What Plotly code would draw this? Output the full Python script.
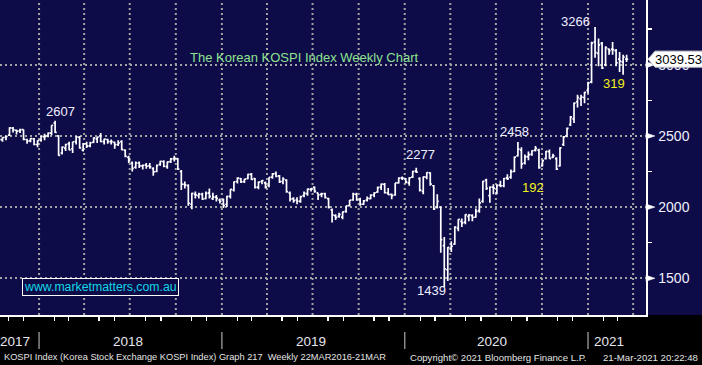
import plotly.graph_objects as go
import pandas as pd

# ---------------- data (weekly KOSPI bars, week ending Friday) ----------------
WEEKS = pd.date_range("2017-10-13", "2021-03-19", freq="W-FRI")

OPEN = [
    2430, 2474, 2490, 2505, 2555, 2540, 2535, 2545, 2475, 2465, 2480, 2440,
    2470, 2495, 2500, 2520, 2590, 2500, 2380, 2415, 2445, 2410, 2460, 2490, 2400, 2445, 2430, 2455,
    2480, 2500, 2460, 2475, 2460, 2455, 2440, 2460, 2400, 2350, 2310, 2280, 2310, 2290, 2295, 2290,
    2270, 2250, 2300, 2320, 2285, 2320, 2340, 2340, 2250, 2160, 2150, 2020, 2090, 2080, 2090, 2060,
    2100, 2060, 2070, 2050,
    2050, 2020, 2075, 2120, 2180, 2200, 2180, 2200, 2230, 2200, 2140, 2180, 2170, 2150, 2210, 2235,
    2220, 2180, 2190, 2100, 2060, 2050, 2040, 2080, 2095, 2125, 2140, 2100, 2090, 2095, 2060, 1980,
    1940, 1935, 1930, 1970, 2010, 2050, 2090, 2050, 2020, 2050, 2060, 2085, 2105, 2140, 2160, 2100,
    2090, 2085, 2170, 2205,
    2200, 2170, 2210, 2255, 2200, 2110, 2210, 2240, 2150, 2000, 2000, 1730, 1560, 1710, 1740, 1850,
    1900, 1895, 1935, 1940, 1930, 1975, 2040, 2190, 2080, 2140, 2100, 2155, 2150, 2205, 2210, 2250,
    2360, 2400, 2310, 2355, 2370, 2400, 2400, 2290, 2340, 2390, 2350, 2340, 2290, 2440, 2500, 2580,
    2620, 2740, 2760, 2770, 2820,
    2880, 3160, 3080, 3150, 3000, 3110, 3110, 3100, 3040, 3020, 3040,
]
HIGH = [
    2480, 2490, 2502, 2561, 2562, 2545, 2550, 2546, 2480, 2485, 2485, 2470,
    2500, 2515, 2525, 2575, 2607, 2505, 2425, 2445, 2460, 2460, 2500, 2500, 2450, 2460, 2460, 2490,
    2495, 2520, 2480, 2480, 2475, 2460, 2470, 2470, 2405, 2360, 2320, 2320, 2320, 2300, 2310, 2310,
    2280, 2300, 2325, 2330, 2320, 2345, 2360, 2345, 2260, 2180, 2160, 2100, 2110, 2100, 2100, 2110,
    2130, 2100, 2085, 2060,
    2060, 2080, 2125, 2180, 2210, 2205, 2200, 2235, 2240, 2205, 2180, 2190, 2180, 2210, 2240, 2250,
    2225, 2210, 2195, 2110, 2070, 2070, 2080, 2110, 2130, 2135, 2145, 2100, 2100, 2100, 2065, 1990,
    1950, 1960, 1970, 2010, 2050, 2100, 2100, 2065, 2050, 2075, 2090, 2105, 2145, 2165, 2170, 2135,
    2095, 2170, 2210, 2215,
    2205, 2210, 2255, 2277, 2210, 2215, 2245, 2245, 2155, 2090, 2005, 1790, 1720, 1760, 1865, 1915,
    1920, 1950, 1950, 1950, 1990, 2060, 2185, 2200, 2145, 2160, 2160, 2185, 2205, 2230, 2265, 2355,
    2458, 2420, 2370, 2390, 2400, 2430, 2410, 2335, 2395, 2405, 2375, 2350, 2420, 2500, 2560, 2640,
    2735, 2790, 2790, 2810, 2880,
    3162, 3266, 3185, 3160, 3130, 3115, 3160, 3110, 3090, 3070, 3070,
]
LOW = [
    2425, 2460, 2470, 2500, 2525, 2510, 2520, 2470, 2445, 2455, 2435, 2420,
    2460, 2470, 2490, 2505, 2520, 2360, 2370, 2395, 2400, 2380, 2440, 2410, 2390, 2415, 2420, 2450,
    2450, 2455, 2440, 2445, 2440, 2410, 2430, 2400, 2350, 2310, 2250, 2270, 2275, 2265, 2270, 2270,
    2220, 2245, 2290, 2280, 2270, 2310, 2320, 2260, 2120, 2130, 2010, 1985, 2060, 2060, 2050, 2055,
    2060, 2050, 2040, 2025,
    1993, 2000, 2060, 2110, 2165, 2170, 2170, 2195, 2190, 2130, 2125, 2160, 2130, 2140, 2200, 2210,
    2170, 2160, 2100, 2040, 2030, 2020, 2030, 2070, 2080, 2110, 2100, 2050, 2070, 2060, 1990, 1891,
    1910, 1925, 1915, 1960, 2005, 2045, 2045, 2010, 2015, 2040, 2055, 2070, 2100, 2120, 2095, 2085,
    2055, 2080, 2165, 2190,
    2165, 2150, 2205, 2240, 2110, 2090, 2195, 2150, 1980, 1990, 1680, 1439, 1480, 1685, 1735, 1830,
    1860, 1880, 1900, 1900, 1925, 1960, 2030, 2120, 2030, 2090, 2090, 2140, 2140, 2190, 2200, 2245,
    2355, 2270, 2300, 2330, 2360, 2390, 2270, 2285, 2335, 2340, 2345, 2260, 2285, 2430, 2490, 2570,
    2590, 2700, 2710, 2730, 2800,
    2870, 3050, 2990, 2970, 2990, 3070, 3070, 2990, 2950, 2930, 3020,
]
CLOSE = [
    2474, 2489, 2496, 2557, 2542, 2533, 2545, 2476, 2464, 2482, 2440, 2467,
    2497, 2496, 2520, 2575, 2525, 2363, 2421, 2440, 2402, 2459, 2494, 2416, 2445, 2429, 2452, 2487,
    2492, 2461, 2477, 2460, 2460, 2438, 2451, 2404, 2357, 2326, 2272, 2310, 2289, 2294, 2287, 2282,
    2247, 2293, 2322, 2287, 2318, 2339, 2343, 2267, 2161, 2156, 2027, 2096, 2086, 2092, 2057, 2097,
    2075, 2070, 2061, 2041,
    2010, 2075, 2124, 2178, 2204, 2177, 2196, 2230, 2195, 2138, 2176, 2186, 2141, 2209, 2233, 2216,
    2179, 2196, 2108, 2056, 2046, 2041, 2073, 2096, 2126, 2130, 2110, 2086, 2094, 2067, 1998, 1943,
    1927, 1948, 1967, 2009, 2049, 2091, 2050, 2020, 2044, 2061, 2085, 2100, 2137, 2162, 2101, 2087,
    2081, 2170, 2204, 2204,
    2176, 2206, 2250, 2246, 2119, 2212, 2243, 2162, 1987, 2040, 1771, 1566, 1717, 1725, 1860, 1914,
    1889, 1947, 1945, 1927, 1970, 2030, 2181, 2132, 2141, 2134, 2152, 2150, 2201, 2200, 2249, 2351,
    2407, 2304, 2353, 2368, 2396, 2412, 2278, 2327, 2391, 2341, 2360, 2267, 2416, 2493, 2553, 2633,
    2731, 2770, 2772, 2806, 2873,
    3152, 3085, 3140, 2976, 3120, 3100, 3107, 3013, 3026, 3054, 3039.53,
]

LAST_PRICE = 3039.53
Y_TICKS = [1500, 2000, 2500, 3000]
Y_MINOR = [1750, 2250, 2750, 3250]
YEARS = ["2017", "2018", "2019", "2020", "2021"]
YEAR_LABEL_DATES = ["2017-11-13", "2018-06-27", "2019-06-28", "2020-06-23", "2021-02-11"]
YEAR_STARTS = ["2018-01-01", "2019-01-01", "2020-01-01", "2021-01-01"]
QUARTERS = pd.date_range("2018-01-01", "2021-04-01", freq="QS")
MONTHS = [d for d in pd.date_range("2017-11-01", "2021-04-01", freq="MS") if d.month not in (1, 4, 7, 10)]

# peak / trough callouts: text, paper x, paper y, colour
CALLOUTS = [
    ("2607", 0.0944, 0.6476, "#eef0ff"),
    ("2277", 0.6502, 0.5111, "#eef0ff"),
    ("1439", 0.6672, 0.0762, "#eef0ff"),
    ("2458", 0.7972, 0.5841, "#eef0ff"),
    ("3266", 0.8901, 0.9302, "#eef0ff"),
    ("192", 0.8251, 0.4063, "#f2f21a"),
    ("319", 0.9505, 0.7365, "#f2f21a"),
]

NAVY = "#0e0b49"
GRID = "#a3a3a3"
FONT = "Liberation Sans, Arial, sans-serif"
W, H = 702, 365
ML, MR, MT, MB = 0, 56, 0, 50
PW, PH = W - ML - MR, H - MT - MB
Y_RANGE = [1242, 3455]
X_RANGE = ["2017-10-15", "2021-04-26 17:00"]

fig = go.Figure()
fig.add_trace(go.Ohlc(
    x=WEEKS, open=OPEN, high=HIGH, low=LOW, close=CLOSE,
    increasing=dict(line=dict(color="white", width=1.7)),
    decreasing=dict(line=dict(color="white", width=1.7)),
    tickwidth=0.45, hoverinfo="skip", showlegend=False,
))

shapes = []
# navy strip behind the price scale
shapes.append(dict(type="rect", xref="paper", yref="paper", x0=1, x1=W / PW + 0.01, y0=0, y1=1,
                   fillcolor=NAVY, line=dict(width=0), layer="below"))
# quarterly dotted gridlines
for q in QUARTERS:
    shapes.append(dict(type="line", xref="x", yref="paper", x0=q, x1=q, y0=0, y1=1,
                       line=dict(color=GRID, width=2, dash="2px,3px"), layer="below"))
# year separators under the axis
for ys in YEAR_STARTS:
    shapes.append(dict(type="line", xref="x", yref="paper", x0=ys, x1=ys, y0=-0.054, y1=-0.108,
                       line=dict(color="#8a8a8a", width=1.5)))
# arrow heads on the price labels
vpp = (Y_RANGE[1] - Y_RANGE[0]) / PH
for v in Y_TICKS:
    shapes.append(dict(type="path", xref="paper", yref="y",
                       path=f"M 1.0,{v - 3 * vpp} L {1 + 9 / PW},{v} L 1.0,{v + 3 * vpp} Z",
                       fillcolor="white", line=dict(color="white", width=0.5), layer="above"))
# last price marker box
x_tip, x_base, x_end = 1 + 2 / PW, 1 + 9 / PW, 1 + 60 / PW
shapes.append(dict(type="path", xref="paper", yref="y",
                   path=(f"M {x_tip},{LAST_PRICE} L {x_base},{LAST_PRICE + 8 * vpp} "
                         f"L {x_end},{LAST_PRICE + 8 * vpp} L {x_end},{LAST_PRICE - 8 * vpp} "
                         f"L {x_base},{LAST_PRICE - 8 * vpp} Z"),
                   fillcolor="white", line=dict(color="#cfcfcf", width=1), layer="above"))

ann = []
ann.append(dict(text="The Korean KOSPI Index Weekly Chart", xref="paper", yref="paper",
                x=188 / PW, y=(PH - 57.5) / PH, xanchor="left", yanchor="middle", showarrow=False,
                font=dict(family=FONT, size=13, color="#8fe38f")))
ann.append(dict(text="www.marketmatters,com.au", xref="paper", yref="paper",
                x=100 / PW, y=(PH - 286.5) / PH, xanchor="center", yanchor="middle", showarrow=False,
                font=dict(family=FONT, size=12.3, color="#12d8e6"),
                bordercolor="white", borderwidth=1, borderpad=1, bgcolor=NAVY))
for t, px, py, col in CALLOUTS:
    ann.append(dict(text=t, xref="paper", yref="paper", x=px, y=py, xanchor="center",
                    yanchor="middle", showarrow=False, font=dict(family=FONT, size=13, color=col)))
ann.append(dict(text=f"{LAST_PRICE:.2f}", xref="paper", yref="y", x=1 + 7 / PW, y=LAST_PRICE,
                xanchor="left", yanchor="middle", showarrow=False,
                font=dict(family=FONT, size=13, color="black")))
for yr, d in zip(YEARS, YEAR_LABEL_DATES):
    ann.append(dict(text=yr, xref="x", yref="paper", x=d, y=-26 / PH, xanchor="center",
                    yanchor="middle", showarrow=False, font=dict(family=FONT, size=13.5, color="#e6e6ee")))
FOOT_Y = -42 / PH
FOOT_FONT = dict(family=FONT, size=9.6, color="#e4e4e4")
ann.append(dict(text="KOSPI Index (Korea Stock Exchange KOSPI Index) Graph 217  Weekly 22MAR2016-21MAR",
                xref="paper", yref="paper", x=2 / PW, y=FOOT_Y, xanchor="left", yanchor="middle",
                showarrow=False, font=dict(family=FONT, size=9.25, color="#e4e4e4")))
ann.append(dict(text="Copyright© 2021 Bloomberg Finance L.P.", xref="paper", yref="paper",
                x=408 / PW, y=FOOT_Y, xanchor="left", yanchor="middle", showarrow=False,
                font=FOOT_FONT))
ann.append(dict(text="21-Mar-2021 20:22:48", xref="paper", yref="paper",
                x=700 / PW, y=FOOT_Y, xanchor="right", yanchor="middle", showarrow=False,
                font=FOOT_FONT))

fig.update_layout(
    width=W, height=H, margin=dict(l=ML, r=MR, t=MT, b=MB, autoexpand=False),
    paper_bgcolor="black", plot_bgcolor=NAVY,
    shapes=shapes, annotations=ann, showlegend=False,
    xaxis=dict(type="date", range=X_RANGE, rangeslider=dict(visible=False),
               showgrid=False, zeroline=False, showline=True, linecolor="white", linewidth=1.5,
               tickmode="array", tickvals=MONTHS, ticktext=["" for _ in MONTHS],
               ticks="outside", ticklen=4, tickcolor="white", tickwidth=1.5,
               showticklabels=False, fixedrange=True),
    yaxis=dict(side="right", range=Y_RANGE, showgrid=True, gridcolor=GRID, gridwidth=2,
               griddash="2px,3px", zeroline=False, showline=True, linecolor="white", linewidth=1.5,
               tickmode="array", tickvals=Y_TICKS, ticks="outside", ticklen=8,
               tickcolor="rgba(0,0,0,0)", tickfont=dict(family=FONT, size=14, color="#eef0ff"),
               minor=dict(tickmode="array", tickvals=Y_MINOR, ticks="outside", ticklen=4,
                          tickcolor="white", tickwidth=1.5, showgrid=False),
               fixedrange=True),
)

fig.write_html(
    "out.html",
    config={"displayModeBar": False, "staticPlot": True},
    post_script="document.body.style.margin='0';document.body.style.background='black';",
)
